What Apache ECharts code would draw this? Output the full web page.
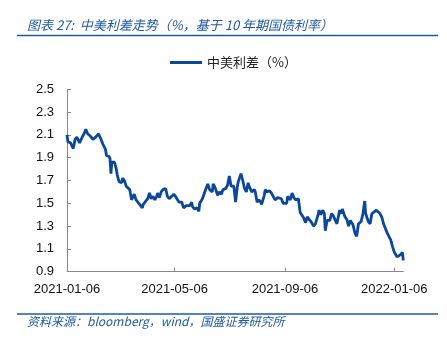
<!DOCTYPE html>
<html><head><meta charset="utf-8">
<script src="https://cdn.jsdelivr.net/npm/echarts@6/dist/echarts.min.js"></script>
<style>html,body{margin:0;padding:0;background:#fff}#c{width:447px;height:340px}</style>
</head><body><div id="c"></div>
<script>
const titleText = '图表 27:  中美利差走势（%，基于 10 年期国债利率）';
const sourceText = '资料来源：bloomberg，wind，国盛证券研究所';
const seriesName = '中美利差（%）';
const xTickDates = ['2021-01-06', '2021-05-06', '2021-09-06', '2022-01-06'];
const xMin = '2021-01-06';
const xMax = '2022-01-16';
const yMin = 0.9, yMax = 2.5, yStep = 0.2;
const dates = [
'2021-01-06','2021-01-07','2021-01-10','2021-01-12','2021-01-13','2021-01-15','2021-01-17','2021-01-19','2021-01-20','2021-01-23',
'2021-01-25','2021-01-27','2021-01-29','2021-02-01','2021-02-04','2021-02-07','2021-02-10','2021-02-13','2021-02-15','2021-02-18',
'2021-02-19','2021-02-22','2021-02-23','2021-02-24','2021-02-25','2021-02-27','2021-02-28','2021-03-02','2021-03-03','2021-03-05',
'2021-03-08','2021-03-09','2021-03-11','2021-03-13','2021-03-15','2021-03-17','2021-03-19','2021-03-22','2021-03-24','2021-03-26',
'2021-03-28','2021-03-31','2021-04-01','2021-04-03','2021-04-06','2021-04-08','2021-04-10','2021-04-12','2021-04-14','2021-04-16',
'2021-04-17','2021-04-19','2021-04-21','2021-04-23','2021-04-26','2021-04-28','2021-04-30','2021-05-02','2021-05-05','2021-05-07',
'2021-05-09','2021-05-11','2021-05-13','2021-05-14','2021-05-16','2021-05-19','2021-05-21','2021-05-23','2021-05-25','2021-05-26',
'2021-05-28','2021-05-31','2021-06-02','2021-06-03','2021-06-06','2021-06-08','2021-06-10','2021-06-12','2021-06-14','2021-06-17',
'2021-06-18','2021-06-20','2021-06-23','2021-06-25','2021-06-27','2021-06-29','2021-07-02','2021-07-04','2021-07-06','2021-07-08',
'2021-07-11','2021-07-13','2021-07-15','2021-07-16','2021-07-19','2021-07-21','2021-07-23','2021-07-25','2021-07-27','2021-07-28',
'2021-07-30','2021-07-31','2021-08-03','2021-08-04','2021-08-06','2021-08-08','2021-08-10','2021-08-11','2021-08-14','2021-08-15',
'2021-08-17','2021-08-20','2021-08-22','2021-08-24','2021-08-26','2021-08-29','2021-08-31','2021-09-02','2021-09-04','2021-09-06',
'2021-09-08','2021-09-09','2021-09-12','2021-09-14','2021-09-16','2021-09-18','2021-09-21','2021-09-23','2021-09-25','2021-09-27',
'2021-09-29','2021-10-01','2021-10-03','2021-10-05','2021-10-08','2021-10-10','2021-10-13','2021-10-14','2021-10-16','2021-10-18',
'2021-10-20','2021-10-21','2021-10-23','2021-10-26','2021-10-28','2021-10-30','2021-11-01','2021-11-03','2021-11-06','2021-11-08',
'2021-11-09','2021-11-12','2021-11-14','2021-11-16','2021-11-18','2021-11-21','2021-11-23','2021-11-25','2021-11-27','2021-11-30',
'2021-12-02','2021-12-04','2021-12-05','2021-12-08','2021-12-10','2021-12-12','2021-12-14','2021-12-17','2021-12-19','2021-12-21',
'2021-12-23','2021-12-25','2021-12-27','2021-12-29','2021-12-31','2022-01-02','2022-01-04','2022-01-06','2022-01-09','2022-01-11',
'2022-01-13','2022-01-15','2022-01-16'
];
const spread = [
2.10,2.04,2.03,2.02,1.98,2.06,2.08,2.08,2.03,2.08,
2.11,2.15,2.11,2.09,2.06,2.08,2.11,2.06,2.02,1.97,
1.92,1.91,1.89,1.76,1.86,1.85,1.86,1.80,1.75,1.69,
1.68,1.72,1.70,1.65,1.66,1.62,1.53,1.58,1.53,1.51,
1.50,1.46,1.49,1.51,1.54,1.59,1.54,1.56,1.53,1.56,
1.59,1.55,1.60,1.62,1.63,1.56,1.54,1.55,1.58,1.56,
1.55,1.51,1.50,1.51,1.46,1.48,1.47,1.48,1.51,1.47,
1.45,1.46,1.43,1.50,1.54,1.53,1.63,1.67,1.62,1.60,
1.67,1.64,1.57,1.60,1.58,1.62,1.63,1.66,1.74,1.65,
1.65,1.51,1.65,1.69,1.76,1.70,1.63,1.60,1.68,1.65,
1.66,1.60,1.62,1.60,1.51,1.53,1.51,1.49,1.57,1.62,
1.60,1.61,1.59,1.60,1.53,1.55,1.56,1.54,1.50,1.51,
1.50,1.56,1.53,1.59,1.55,1.53,1.54,1.42,1.41,1.37,
1.33,1.38,1.36,1.34,1.30,1.32,1.40,1.44,1.40,1.44,
1.41,1.26,1.35,1.35,1.41,1.39,1.38,1.32,1.44,1.41,
1.45,1.38,1.36,1.30,1.35,1.31,1.24,1.21,1.32,1.34,
1.41,1.52,1.41,1.34,1.32,1.41,1.40,1.44,1.44,1.41,
1.38,1.32,1.32,1.24,1.25,1.18,1.12,1.07,1.03,1.03,
1.05,1.07,1.00
];

const chart = echarts.init(document.getElementById('c'), null, {renderer: 'canvas'});
const P = s => { const a = s.split('-').map(Number); return Date.UTC(a[0], a[1] - 1, a[2]); };
const fmt = v => { const d = new Date(v); const p = n => (n < 10 ? '0' : '') + n; return d.getUTCFullYear() + '-' + p(d.getUTCMonth() + 1) + '-' + p(d.getUTCDate()); };
const blue = '#1f5aa6';
const lineBlue = '#0c479c';
const font = '"Liberation Sans", Arial, sans-serif';
const cjk = '"Noto Sans CJK SC", sans-serif';
chart.setOption({
  animation: false,
  backgroundColor: '#fff',
  title: {
    text: titleText, left: 22, top: 14,
    textStyle: {color: blue, fontSize: 13, fontStyle: 'italic', fontWeight: 'normal', fontFamily: cjk}
  },
  graphic: [
    {type: 'line', shape: {x1: 17, y1: 35.5, x2: 438, y2: 35.5}, style: {stroke: blue, lineWidth: 1.5}},
    {type: 'line', shape: {x1: 17, y1: 314, x2: 438, y2: 314}, style: {stroke: blue, lineWidth: 1.5}},
    {type: 'text', left: 27, top: 315, style: {text: sourceText, fill: blue, font: 'italic 12px "Noto Sans CJK SC", sans-serif'}}
  ],
  legend: {
    left: 165, top: 51, icon: 'rect', itemWidth: 32, itemHeight: 3, itemGap: 5,
    textStyle: {fontSize: 13, color: '#222', fontFamily: cjk},
    data: [seriesName]
  },
  grid: {left: 67, right: 43.7, top: 89.3, bottom: 68.3, containLabel: false},
  xAxis: {
    type: 'value', min: P(xMin), max: P(xMax),
    axisLine: {lineStyle: {color: '#888', width: 1}},
    axisTick: {show: true, inside: true, length: 4, lineStyle: {color: '#888'}, customValues: xTickDates.map(P)},
    axisLabel: {
      customValues: xTickDates.map(P), margin: 11, color: '#111', fontSize: 13, fontFamily: font,
      formatter: v => fmt(v)
    },
    splitLine: {show: false}
  },
  yAxis: {
    type: 'value', min: yMin, max: yMax, interval: yStep,
    axisLine: {show: true, lineStyle: {color: '#888', width: 1}},
    axisTick: {show: true, inside: true, length: 4, lineStyle: {color: '#888'}},
    axisLabel: {margin: 13, color: '#111', fontSize: 13, fontFamily: font, formatter: v => v.toFixed(1)},
    splitLine: {show: false}
  },
  series: [{
    name: seriesName, type: 'line', symbol: 'none', showSymbol: false,
    lineStyle: {color: lineBlue, width: 2.8}, itemStyle: {color: lineBlue},
    data: dates.map((d, i) => [P(d), spread[i]])
  }]
});
</script></body></html>
